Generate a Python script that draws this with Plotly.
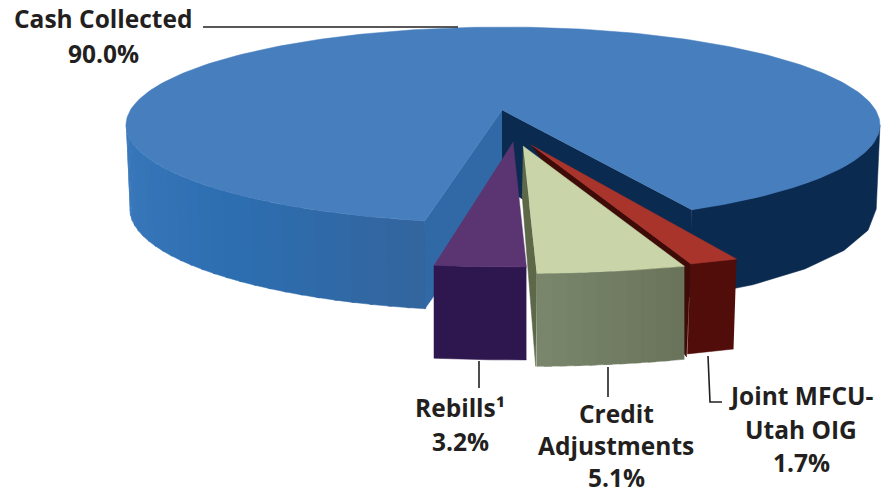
import numpy as np
import plotly.graph_objects as go

categories = ["Cash Collected", "Rebills", "Credit Adjustments", "Joint MFCU-Utah OIG"]
values = [90.0, 3.2, 5.1, 1.7]

W, H = 882, 494
CX, CY, RX, RY = 503, 125, 377, 98
START = 64.9
ANGLE_FORESHORTEN = 0.96
NAVY = "#0b2a50"
TOP_BLUE = "#467ebe"
INNER_BLUE = "#3069a6"
INK = "#231f20"

fig = go.Figure()


def poly(xs, ys, color):
    fig.add_trace(go.Scatter(x=list(xs), y=list(ys), mode="lines", fill="toself", fillcolor=color,
                             line=dict(color=color, width=0.5), hoverinfo="skip", showlegend=False))


def arc(cx, cy, s, t0, t1, n=80, dy=0.0):
    t = np.radians(np.linspace(t0, t1, n))
    return cx + s * RX * np.cos(t), cy + s * RY * np.sin(t) + dy


def depth(t):
    return 84 + 4 * np.sin(np.radians(t))


def wall(t0, t1, color_fn, strips):
    edges = np.linspace(t0, t1, strips + 1)
    for a, b in zip(edges[:-1], edges[1:]):
        ts = np.linspace(a, b + 0.6 * np.sign(b - a), 6) if b != edges[-1] else np.linspace(a, b, 6)
        r = np.radians(ts)
        x = CX + RX * np.cos(r)
        y = CY + RY * np.sin(r)
        d = depth(ts)
        poly(np.r_[x, x[::-1] * 0.99 + 0.01 * CX], np.r_[y, (y + d)[::-1]], color_fn((a + b) / 2))


def mix(c1, c2, f):
    a = [int(c1[i:i + 2], 16) for i in (1, 3, 5)]
    b = [int(c2[i:i + 2], 16) for i in (1, 3, 5)]
    return "rgb(%d,%d,%d)" % tuple(round(p + (q - p) * f) for p, q in zip(a, b))


def left_col(t):
    if t > 135:
        return mix("#2c6eb1", "#3f7bbf", (t - 135) / 55)
    return mix("#33659f", "#2c6eb1", (t - 103) / 32)


# angular layout driven by the values
angles = [v * 3.6 * ANGLE_FORESHORTEN for v in values]
red_a = (START, START + angles[3])
cred_a = (red_a[1], red_a[1] + angles[2])
reb_a = (cred_a[1], cred_a[1] + angles[1])
blue_a = (reb_a[1] + 2.5, START + 360 - 4.9)

# main slice: walls then top
ax, ay = 502, 110
wall(180, blue_a[0], left_col, 26)
wall(blue_a[1] - 360, 0, lambda t: NAVY, 1)
lx, ly = arc(CX, CY, 1, blue_a[0], blue_a[0], 1)
rx_, ry_ = arc(CX, CY, 1, blue_a[1], blue_a[1], 1)
poly([ax, lx[0], lx[0], ax], [ay, ly[0], ly[0] + 88, ay + 90], INNER_BLUE)
poly([ax, rx_[0], rx_[0], ax + 17, ax], [ay, ry_[0], ry_[0] + 88, ay + 87, ay + 87], NAVY)
tx, ty = arc(CX, CY, 1, blue_a[0], blue_a[1], 300)
poly(np.r_[ax, tx], np.r_[ay, ty], TOP_BLUE)

# Rebills
ap = (513, 142); s = 1.275; d = 93
x, y = arc(ap[0], ap[1], s, *reb_a, n=30)
poly(np.r_[x, x[::-1]], np.r_[y, (y + d)[::-1]], "#2e174f")
poly(np.r_[ap[0], x], np.r_[ap[1], y], "#5a3572")

# Joint MFCU-Utah OIG (behind the credit slice)
ap = (531, 145); s = 1.285; d = 90
x, y = arc(ap[0], ap[1], s, *red_a, n=16)
poly([ap[0], x[-1], x[-1] - 4, x[-1] - 14], [ap[1], y[-1], y[-1] + d + 3, y[-1] + d - 10], "#3f0b07")
poly(np.r_[x, x[::-1] - 3], np.r_[y, (y + d)[::-1]], "#500d09")
poly(np.r_[ap[0], x], np.r_[ap[1], y], "#a9342b")

# Credit adjustments
ap = (523, 146); s = 1.30; d = 93
x, y = arc(ap[0], ap[1], s, *cred_a, n=41)
poly([ap[0], x[-1], x[-1] - 1, ap[0] - 1], [ap[1], y[-1], y[-1] + d, ap[1] + 48], "#5d6848")
edges = np.linspace(0, 40, 11).astype(int)
for i, (a, b) in enumerate(zip(edges[:-1], edges[1:])):
    f = i / 9
    e = min(b + 2, 40)
    poly(np.r_[x[a:e + 1], x[a:e + 1][::-1]], np.r_[y[a:e + 1], (y[a:e + 1] + d)[::-1]], mix("#69745a", "#7a866c", f))
poly(np.r_[ap[0], x], np.r_[ap[1], y], "#c9d5a8")

# leader lines
leaders = [([203, 458], [27, 27]), ([479, 479], [361, 388]), ([608, 608], [367, 397]),
           ([708, 710, 722], [356, 402, 402])]
for lxs, lys in leaders:
    fig.add_trace(go.Scatter(x=lxs, y=lys, mode="lines", line=dict(color=INK, width=1.6),
                             hoverinfo="skip", showlegend=False))

labels = [("Cash Collected", 103, 18), ("90.0%", 103, 53), ("Rebills¹", 460, 407), ("3.2%", 460, 441),
          ("Credit", 616, 413), ("Adjustments", 616, 445), ("5.1%", 616, 477),
          ("Joint MFCU-", 801, 395), ("Utah OIG", 801, 429), ("1.7%", 801, 462)]
for text, lx0, ly0 in labels:
    fig.add_annotation(x=lx0, y=ly0, text=text, showarrow=False, xanchor="center", yanchor="middle",
                       font=dict(family="Open Sans", size=24.5, color=INK, weight="bold"))

fig.update_layout(width=W, height=H, margin=dict(l=0, r=0, t=0, b=0), paper_bgcolor="white", plot_bgcolor="white",
                  showlegend=False,
                  xaxis=dict(range=[0, W], visible=False, fixedrange=True),
                  yaxis=dict(range=[H, 0], visible=False, fixedrange=True))
fig.write_html("out.html", config={"displayModeBar": False},
               post_script="document.body.style.margin='0';")
